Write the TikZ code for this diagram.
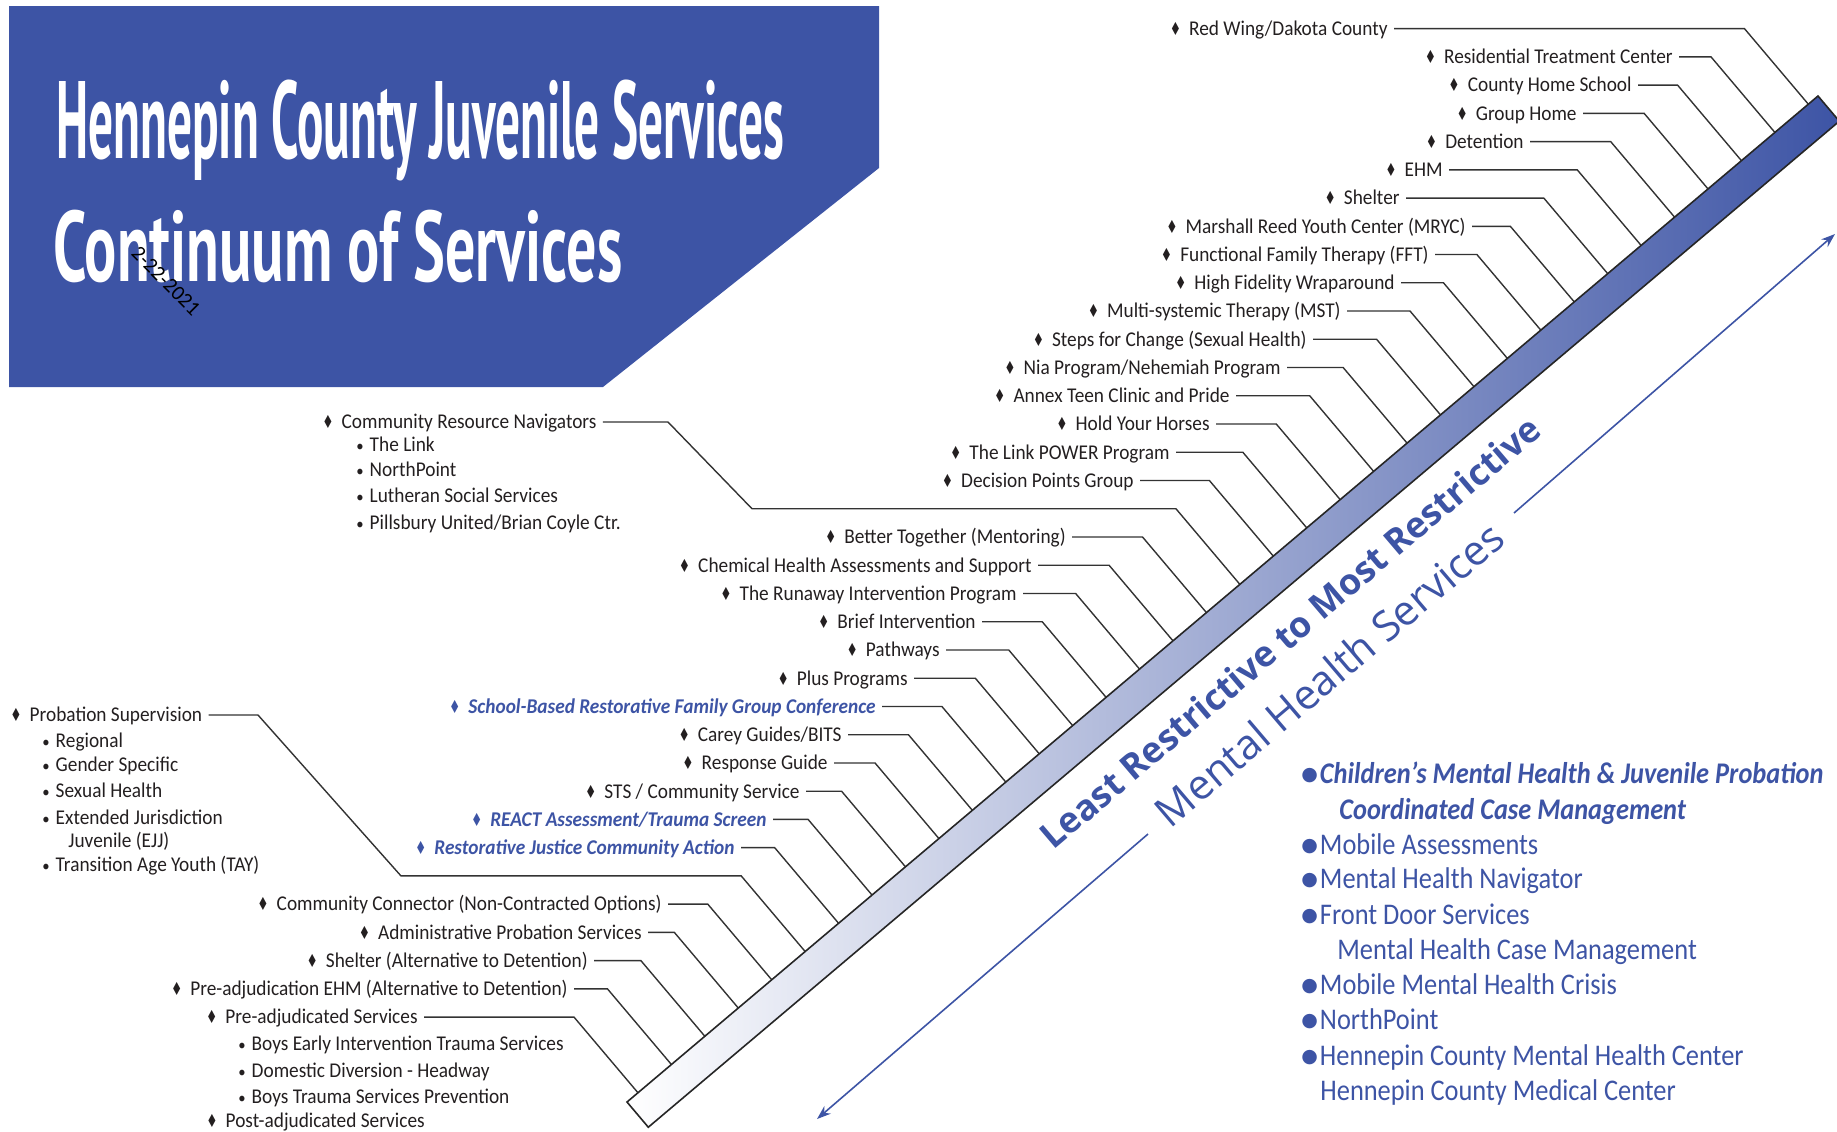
\documentclass[tikz,border=0pt]{standalone}
\usepackage{fontspec}
\setmainfont{Carlito}
\newfontfamily\labelfont[FakeStretch=0.92]{Carlito}
\newfontfamily\mhfont[FakeStretch=0.88]{Carlito}
\newfontfamily\titlefont[FakeStretch=0.448]{PT Sans}
\newfontfamily\subtitlefont[FakeStretch=0.6]{PT Sans}
\newfontfamily\diagfont{Open Sans}
\newfontfamily\symfont[FakeStretch=0.7]{DejaVu Sans}
\newfontfamily\dotfont{DejaVu Sans}
\usepackage{tikz}
\usetikzlibrary{calc, positioning, shapes, arrows.meta}
\definecolor{hcblue}{RGB}{61,84,165}
\definecolor{ink}{RGB}{35,31,32}
% list marks
\newcommand\dia{{\symfont\fontsize{9}{9}\selectfont\char"2666}\hspace{4pt}}
\newcommand\subdot{{\fontsize{8}{8}\selectfont\textbullet}\hspace{3pt}}
\newcommand\mhdot{\raisebox{1.6pt}{\dotfont\fontsize{9.5}{10}\selectfont\char"25CF}\hspace{1pt}}
% one rung: index, x where the line starts, style, text
\newcommand\rungdx{-63.9}
\newcommand\rungdy{-75.6}
\newcommand\rungpt[1]{\pgfmathsetmacro\rungpos{0.0092+0.02807*(35-#1)}\coordinate (end#1) at ($(barlo)!\rungpos!(barhi)$);\coordinate (bend#1) at ($(end#1)+(\rungdx,\rungdy)$);}
\newcommand\rung[4]{\rungpt{#1}\node[#3] (svc#1) at (bend#1 -| #2,0) {\dia #4};\draw[rungline] (svc#1.east) -- (bend#1) -- (end#1);}
\tikzset{
  svc/.style={anchor=east, inner sep=3pt, text=ink, text height=6.8pt, text depth=0pt, font=\labelfont\fontsize{10.5}{12}\selectfont},
  svcblue/.style={svc, text=hcblue, font=\labelfont\fontsize{10.5}{12}\selectfont\bfseries\itshape},
  sub/.style={svc, anchor=west, inner sep=0pt},
  rungline/.style={draw=black!80, line width=0.7pt},
  mh/.style={anchor=west, inner sep=0pt, text=hcblue, text height=9.7pt, text depth=0pt, font=\mhfont\fontsize{15}{16}\selectfont},
  mhbold/.style={mh, font=\mhfont\fontsize{15}{16}\selectfont\bfseries\itshape},
  titletext/.style={anchor=base west, inner sep=0pt, text=white, font=\titlefont\bfseries\fontsize{55}{55}\selectfont},
  flow/.style={draw=hcblue, line width=0.8pt, -{Stealth[length=7pt,width=5pt]}}
}

\begin{document}
\begin{tikzpicture}[x=0.5pt, y=-0.5pt]
	\useasboundingbox (0,0) rectangle (1837,1131);
	% title block
	\fill[hcblue] (9,6) -- (879,6) -- (879,168) -- (603,387) -- (9,387) -- cycle;
	\node[titletext] (title1) at (56,158) {Hennepin County Juvenile Services};
	\node[titletext, font=\subtitlefont\bfseries\fontsize{50}{50}\selectfont] (title2) at (53,281) {Continuum of Services};
	\node[text=black, font=\fontsize{10.5}{10.5}\selectfont, rotate=-45] (date) at (166,281) {2-22-2021};
	% the bar
	\coordinate (barlo) at (627,1102);
	\coordinate (barhi) at (1818,96);
	% rungs, most restrictive first
	\rung{0}{1394}{svc}{Red Wing/Dakota County}
	\rung{1}{1679}{svc}{Residential Treatment Center}
	\rung{2}{1638}{svc}{County Home School}
	\rung{3}{1583}{svc}{Group Home}
	\rung{4}{1530}{svc}{Detention}
	\rung{5}{1449}{svc}{EHM}
	\rung{6}{1406}{svc}{Shelter}
	\rung{7}{1472}{svc}{Marshall Reed Youth Center (MRYC)}
	\rung{8}{1435}{svc}{Functional Family Therapy (FFT)}
	\rung{9}{1401}{svc}{High Fidelity Wraparound}
	\rung{10}{1347}{svc}{Multi-systemic Therapy (MST)}
	\rung{11}{1313}{svc}{Steps for Change (Sexual Health)}
	\rung{12}{1287}{svc}{Nia Program/Nehemiah Program}
	\rung{13}{1236}{svc}{Annex Teen Clinic and Pride}
	\rung{14}{1216}{svc}{Hold Your Horses}
	\rung{15}{1176}{svc}{The Link POWER Program}
	\rung{16}{1140}{svc}{Decision Points Group}
	\rung{18}{1072}{svc}{Better Together (Mentoring)}
	\rung{19}{1038}{svc}{Chemical Health Assessments and Support}
	\rung{20}{1023}{svc}{The Runaway Intervention Program}
	\rung{21}{982}{svc}{Brief Intervention}
	\rung{22}{946}{svc}{Pathways}
	\rung{23}{914}{svc}{Plus Programs}
	\rung{24}{882}{svcblue}{School-Based Restorative Family Group Conference}
	\rung{25}{848}{svc}{Carey Guides/BITS}
	\rung{26}{834}{svc}{Response Guide}
	\rung{27}{806}{svc}{STS / Community Service}
	\rung{28}{773}{svcblue}{REACT Assessment/Trauma Screen}
	\rung{29}{741}{svcblue}{Restorative Justice Community Action}
	\rung{31}{668}{svc}{Community Connector (Non-Contracted Options)}
	\rung{32}{648}{svc}{Administrative Probation Services}
	\rung{33}{594}{svc}{Shelter (Alternative to Detention)}
	\rung{34}{574}{svc}{Pre-adjudication EHM (Alternative to Detention)}
	\rung{35}{424}{svc}{Pre-adjudicated Services}
	% community resource navigators
	\rungpt{17}
	\node[svc, anchor=west] (crn) at (316,422) {\dia Community Resource Navigators};
	\draw[rungline] (crn.east) -- (crn.east -| 668,0) -- (bend17 -| 752,0) -- (bend17) -- (end17);
	\node[sub] (crn1) at (356,445) {\subdot The Link};
	\node[sub] (crn2) at (356,470) {\subdot NorthPoint};
	\node[sub] (crn3) at (356,496) {\subdot Lutheran Social Services};
	\node[sub] (crn4) at (356,523) {\subdot Pillsbury United/Brian Coyle Ctr.};
	% probation supervision
	\rungpt{30}
	\node[svc, anchor=west] (ps) at (4,715) {\dia Probation Supervision};
	\draw[rungline] (ps.east) -- (ps.east -| 258,0) -- (bend30 -| 401,0) -- (bend30) -- (end30);
	\node[sub] (ps1) at (42,741) {\subdot Regional};
	\node[sub] (ps2) at (42,765) {\subdot Gender Specific};
	\node[sub] (ps3) at (42,791) {\subdot Sexual Health};
	\node[sub] (ps4) at (42,818) {\subdot Extended Jurisdiction};
	\node[sub] (ps5) at (68,841) {Juvenile (EJJ)};
	\node[sub] (ps6) at (42,865) {\subdot Transition Age Youth (TAY)};
	% pre-adjudicated services
	\node[sub] (pre1) at (238,1044) {\subdot Boys Early Intervention Trauma Services};
	\node[sub] (pre2) at (238,1071) {\subdot Domestic Diversion - Headway};
	\node[sub] (pre3) at (238,1097) {\subdot Boys Trauma Services Prevention};
	\node[svc, anchor=west] (post) at (200,1121) {\dia Post-adjudicated Services};
	% bar on top of the rung ends
	\shade[left color=white, right color=hcblue, draw=black!85, line width=0.8pt] (barlo) -- (barhi) -- ($(barhi)+(21.3,25.2)$) -- ($(barlo)+(21.3,25.2)$) -- cycle;
	% direction arrows and captions
	\coordinate (up0) at (1514,513);
	\coordinate (up1) at (1835,234);
	\coordinate (dn0) at (1148,834);
	\coordinate (dn1) at (817,1119);
	\draw[flow] (up0) -- (up1);
	\draw[flow] (dn0) -- (dn1);
	\node[text=hcblue, font=\diagfont\bfseries\fontsize{17.9}{18}\selectfont, rotate=40.4] (least) at (1290,632) {Least Restrictive to Most Restrictive};
	\node[text=hcblue, font=\diagfont\fontsize{20.8}{21}\selectfont, rotate=40.4] (mental) at (1329,674) {Mental Health Services};
	% mental health services
	\node[mhbold] (mh1) at (1301,774) {\mhdot Children’s Mental Health \& Juvenile Probation};
	\node[mhbold] (mh2) at (1339,810) {Coordinated Case Management};
	\node[mh] (mh3) at (1301,845) {\mhdot Mobile Assessments};
	\node[mh] (mh4) at (1301,879) {\mhdot Mental Health Navigator};
	\node[mh] (mh5) at (1301,915) {\mhdot Front Door Services};
	\node[mh] (mh6) at (1337,950) {Mental Health Case Management};
	\node[mh] (mh7) at (1301,985) {\mhdot Mobile Mental Health Crisis};
	\node[mh] (mh8) at (1301,1020) {\mhdot NorthPoint};
	\node[mh] (mh9) at (1301,1056) {\mhdot Hennepin County Mental Health Center};
	\node[mh] (mh10) at (1320,1091) {Hennepin County Medical Center};
\end{tikzpicture}
\end{document}
